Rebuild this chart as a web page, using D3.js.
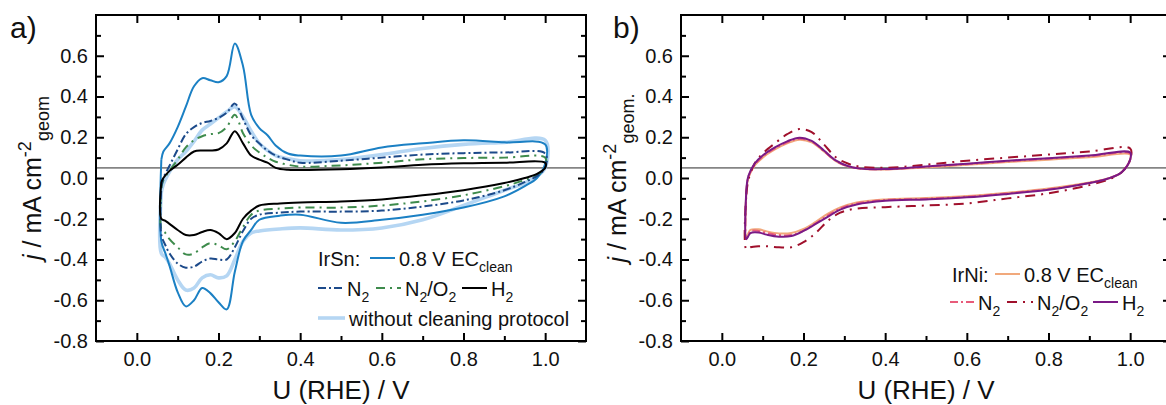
<!DOCTYPE html>
<html>
<head>
<meta charset="utf-8">
<script src="https://cdn.jsdelivr.net/npm/d3@7"></script>
<style>
  html, body { margin: 0; padding: 0; background: #fff; }
  svg { display: block; }
</style>
</head>
<body>
<svg id="chart" width="1166" height="405"></svg>
<script>
// CV curves of IrSn (a) and IrNi (b), anodic + cathodic branch per curve

// --- axis ticks ---
const X_MAJOR = [0, 0.2, 0.4, 0.6, 0.8, 1.0];
const X_MINOR = [0.1, 0.3, 0.5, 0.7, 0.9];
const Y_MAJOR = [-0.8, -0.6, -0.4, -0.2, 0, 0.2, 0.4, 0.6];
const Y_MINOR = [-0.7, -0.5, -0.3, -0.1, 0.1, 0.3, 0.5, 0.7];
const BASELINE_J = 0.05;

// --- IrSn potentials (V) ---
const U_UP_SN = [0.06, 0.065, 0.08, 0.10, 0.12, 0.14, 0.16, 0.18, 0.20, 0.22, 0.24, 0.26, 0.28, 0.30, 0.32, 0.34, 0.37, 0.40, 0.50, 0.60, 0.70, 0.80, 0.90, 1.00];
const U_DOWN_SN = [1.00, 0.98, 0.95, 0.90, 0.80, 0.70, 0.60, 0.50, 0.40, 0.35, 0.30, 0.28, 0.26, 0.24, 0.22, 0.20, 0.18, 0.16, 0.14, 0.12, 0.10, 0.08, 0.07, 0.06];

// IrSn current densities (mA cm-2)
const SN_CLEAN_UP = [0.09, 0.13, 0.17, 0.25, 0.35, 0.45, 0.49, 0.48, 0.47, 0.50, 0.66, 0.55, 0.31, 0.245, 0.21, 0.16, 0.12, 0.11, 0.11, 0.15, 0.17, 0.185, 0.175, 0.165];
const SN_CLEAN_DOWN = [0.07, 0.0, -0.04, -0.09, -0.145, -0.18, -0.205, -0.22, -0.18, -0.185, -0.205, -0.255, -0.31, -0.46, -0.645, -0.61, -0.565, -0.54, -0.60, -0.63, -0.56, -0.43, -0.37, -0.31];
const SN_BARE_UP = [-0.07, -0.03, 0.03, 0.09, 0.13, 0.18, 0.235, 0.265, 0.295, 0.325, 0.35, 0.30, 0.23, 0.17, 0.135, 0.11, 0.095, 0.085, 0.09, 0.115, 0.145, 0.165, 0.175, 0.185];
const SN_BARE_DOWN = [0.05, 0.01, -0.025, -0.06, -0.135, -0.205, -0.245, -0.255, -0.245, -0.25, -0.26, -0.27, -0.31, -0.40, -0.48, -0.49, -0.475, -0.49, -0.54, -0.55, -0.50, -0.42, -0.39, -0.37];
const SN_N2_UP = [-0.04, 0.0, 0.06, 0.14, 0.215, 0.25, 0.27, 0.28, 0.295, 0.32, 0.365, 0.29, 0.21, 0.17, 0.135, 0.11, 0.09, 0.075, 0.085, 0.10, 0.115, 0.122, 0.125, 0.12];
const SN_N2_DOWN = [0.05, 0.01, -0.02, -0.06, -0.11, -0.14, -0.16, -0.165, -0.165, -0.17, -0.18, -0.20, -0.26, -0.34, -0.40, -0.40, -0.395, -0.41, -0.435, -0.44, -0.42, -0.37, -0.33, -0.28];
const SN_N2O2_UP = [-0.05, -0.01, 0.035, 0.09, 0.15, 0.185, 0.205, 0.215, 0.22, 0.25, 0.31, 0.22, 0.16, 0.125, 0.10, 0.08, 0.065, 0.056, 0.062, 0.075, 0.092, 0.098, 0.10, 0.10];
const SN_N2O2_DOWN = [0.05, 0.015, -0.01, -0.04, -0.085, -0.115, -0.135, -0.145, -0.145, -0.15, -0.16, -0.18, -0.24, -0.31, -0.35, -0.33, -0.32, -0.34, -0.37, -0.375, -0.34, -0.30, -0.27, -0.25];
const SN_H2_UP = [-0.02, 0.0, 0.035, 0.065, 0.10, 0.13, 0.135, 0.135, 0.14, 0.17, 0.23, 0.17, 0.11, 0.09, 0.075, 0.05, 0.04, 0.039, 0.043, 0.052, 0.065, 0.072, 0.075, 0.075];
const SN_H2_DOWN = [0.05, 0.02, 0.0, -0.025, -0.06, -0.085, -0.105, -0.115, -0.12, -0.125, -0.135, -0.16, -0.20, -0.27, -0.30, -0.27, -0.255, -0.265, -0.28, -0.28, -0.255, -0.225, -0.21, -0.20];

// --- IrNi potentials (V) ---
const U_UP_NI = [0.06, 0.065, 0.08, 0.10, 0.13, 0.16, 0.19, 0.22, 0.25, 0.28, 0.31, 0.34, 0.40, 0.50, 0.60, 0.70, 0.80, 0.90, 1.00];
const U_DOWN_NI = [1.00, 0.98, 0.95, 0.90, 0.80, 0.70, 0.60, 0.50, 0.40, 0.33, 0.29, 0.26, 0.23, 0.20, 0.17, 0.14, 0.11, 0.09, 0.07, 0.06];

// IrNi current densities (mA cm-2)
const NI_CLEAN_UP = [-0.07, 0.0, 0.06, 0.10, 0.14, 0.17, 0.188, 0.175, 0.13, 0.082, 0.056, 0.045, 0.042, 0.052, 0.065, 0.078, 0.09, 0.102, 0.115];
const NI_CLEAN_DOWN = [0.09, 0.03, 0.0, -0.022, -0.052, -0.072, -0.088, -0.098, -0.105, -0.12, -0.145, -0.175, -0.215, -0.25, -0.27, -0.272, -0.262, -0.252, -0.255, -0.29];
const NI_N2_UP = [-0.07, 0.005, 0.062, 0.105, 0.145, 0.175, 0.192, 0.178, 0.132, 0.083, 0.057, 0.046, 0.043, 0.055, 0.068, 0.082, 0.095, 0.107, 0.12];
const NI_N2_DOWN = [0.09, 0.03, 0.0, -0.024, -0.055, -0.075, -0.092, -0.102, -0.108, -0.125, -0.15, -0.183, -0.222, -0.258, -0.28, -0.28, -0.27, -0.26, -0.262, -0.30];
const NI_N2O2_UP = [-0.08, -0.01, 0.07, 0.12, 0.17, 0.215, 0.24, 0.225, 0.165, 0.10, 0.07, 0.055, 0.05, 0.065, 0.085, 0.10, 0.115, 0.13, 0.145];
const NI_N2O2_DOWN = [0.09, 0.03, -0.005, -0.035, -0.075, -0.10, -0.125, -0.135, -0.143, -0.15, -0.17, -0.21, -0.27, -0.315, -0.34, -0.34, -0.335, -0.335, -0.34, -0.35];
const NI_H2_UP = [-0.06, 0.01, 0.07, 0.11, 0.15, 0.18, 0.198, 0.182, 0.135, 0.085, 0.058, 0.046, 0.044, 0.057, 0.07, 0.085, 0.097, 0.11, 0.125];
const NI_H2_DOWN = [0.09, 0.03, 0.0, -0.025, -0.058, -0.078, -0.095, -0.105, -0.112, -0.13, -0.155, -0.19, -0.225, -0.26, -0.285, -0.288, -0.278, -0.267, -0.27, -0.30];

const FONT = '"Liberation Sans", Arial, Helvetica, sans-serif';
const TOP = 15, PW = 490, PH = 326;

const svg = d3.select('#chart').attr('font-family', FONT);

const fmt = d => d.toFixed(1);

// text with sub/superscripts and italics
function addRich(text, parts, size) {
  let shift = 0;
  parts.forEach(([str, kind]) => {
    const target = kind === 'sub' ? 0.3 * size : kind === 'sup' ? -0.42 * size : 0;
    const t = text.append('tspan').text(str).attr('dy', target - shift);
    if (kind === 'sub' || kind === 'sup') t.attr('font-size', Math.round(size * 0.7));
    if (kind === 'it') t.attr('font-style', 'italic');
    shift = target;
  });
}

const panels = [
  {
    left: 96, tag: 'a)', tagX: 10, titleX: 41, unit: 'geom',
    up: U_UP_SN, down: U_DOWN_SN,
    series: [
      { up: SN_BARE_UP, down: SN_BARE_DOWN, color: '#b5d6f3', width: 3.6, dash: null },
      { up: SN_CLEAN_UP, down: SN_CLEAN_DOWN, color: '#1b80c4', width: 2, dash: null },
      { up: SN_N2O2_UP, down: SN_N2O2_DOWN, color: '#3e8b4c', width: 2, dash: '9,5,2,5' },
      { up: SN_N2_UP, down: SN_N2_DOWN, color: '#1c4a8a', width: 2, dash: '8,3,2,3' },
      { up: SN_H2_UP, down: SN_H2_DOWN, color: '#000000', width: 2, dash: null }
    ],
    legendHead: { text: 'IrSn:', x: 318, y: 266 },
    legend: [
      { s: 1, x: 370, y: 266, len: 25, parts: [['0.8 V EC', ''], ['clean', 'sub']] },
      { s: 3, x: 318, y: 296, len: 25, parts: [['N', ''], ['2', 'sub']] },
      { s: 2, x: 376, y: 296, len: 25, parts: [['N', ''], ['2', 'sub'], ['/O', ''], ['2', 'sub']] },
      { s: 4, x: 462, y: 296, len: 25, parts: [['H', ''], ['2', 'sub']] },
      { s: 0, x: 318, y: 326, len: 27, parts: [['without cleaning protocol', '']] }
    ]
  },
  {
    left: 681, tag: 'b)', tagX: 613, titleX: 626, unit: 'geom.',
    up: U_UP_NI, down: U_DOWN_NI,
    series: [
      { up: NI_CLEAN_UP, down: NI_CLEAN_DOWN, color: '#f1a97c', width: 2, dash: null },
      { up: NI_N2_UP, down: NI_N2_DOWN, color: '#e85b7a', width: 2, dash: '8,3,2,3' },
      { up: NI_N2O2_UP, down: NI_N2O2_DOWN, color: '#a0102c', width: 2, dash: '10,6,2,6' },
      { up: NI_H2_UP, down: NI_H2_DOWN, color: '#7a1a86', width: 2, dash: null }
    ],
    legendHead: { text: 'IrNi:', x: 952, y: 282 },
    legend: [
      { s: 0, x: 995, y: 282, len: 25, parts: [['0.8 V EC', ''], ['clean', 'sub']] },
      { s: 1, x: 950, y: 310, len: 24, parts: [['N', ''], ['2', 'sub']] },
      { s: 2, x: 1007, y: 310, len: 26, parts: [['N', ''], ['2', 'sub'], ['/O', ''], ['2', 'sub']] },
      { s: 3, x: 1093, y: 310, len: 25, parts: [['H', ''], ['2', 'sub']] }
    ]
  }
];

function styleAxis(g) {
  g.select('.domain').remove();
  g.selectAll('line').attr('stroke', '#000').attr('stroke-width', 2);
  g.selectAll('text').attr('font-size', 20).attr('font-family', FONT).attr('fill', '#111');
}

panels.forEach(p => {
  const x = d3.scaleLinear().domain([-0.1, 1.1]).range([0, PW]);
  const y = d3.scaleLinear().domain([-0.8, 0.8]).range([PH, 0]);
  const g = svg.append('g').attr('transform', `translate(${p.left},${TOP})`);

  // reference line
  g.append('line')
    .attr('x1', 0).attr('x2', PW)
    .attr('y1', y(BASELINE_J)).attr('y2', y(BASELINE_J))
    .attr('stroke', '#858585').attr('stroke-width', 1.7);

  // curves: anodic then cathodic, closed
  const line = d3.line().x(d => x(d[0])).y(d => y(d[1])).curve(d3.curveCatmullRom.alpha(0.5));
  p.series.forEach(s => {
    const pts = s.up.map((v, i) => [p.up[i], v]).concat(s.down.map((v, i) => [p.down[i], v]));
    pts.push(pts[0]);
    g.append('path')
      .attr('d', line(pts))
      .attr('fill', 'none')
      .attr('stroke', s.color)
      .attr('stroke-width', s.width)
      .attr('stroke-linejoin', 'round')
      .attr('stroke-dasharray', s.dash);
  });

  // ticks on all four sides, pointing inward
  g.append('g').attr('transform', `translate(0,${PH})`)
    .call(d3.axisBottom(x).tickValues(X_MAJOR).tickSize(-8).tickPadding(11).tickFormat(fmt)).call(styleAxis);
  g.append('g').attr('transform', `translate(0,${PH})`)
    .call(d3.axisBottom(x).tickValues(X_MINOR).tickSize(-5).tickFormat('')).call(styleAxis);
  g.append('g')
    .call(d3.axisTop(x).tickValues(X_MAJOR).tickSize(-8).tickFormat('')).call(styleAxis);
  g.append('g')
    .call(d3.axisTop(x).tickValues(X_MINOR).tickSize(-5).tickFormat('')).call(styleAxis);
  g.append('g')
    .call(d3.axisLeft(y).tickValues(Y_MAJOR).tickSize(-8).tickPadding(8).tickFormat(fmt)).call(styleAxis);
  g.append('g')
    .call(d3.axisLeft(y).tickValues(Y_MINOR).tickSize(-5).tickFormat('')).call(styleAxis);
  g.append('g').attr('transform', `translate(${PW},0)`)
    .call(d3.axisRight(y).tickValues(Y_MAJOR).tickSize(-8).tickFormat('')).call(styleAxis);
  g.append('g').attr('transform', `translate(${PW},0)`)
    .call(d3.axisRight(y).tickValues(Y_MINOR).tickSize(-5).tickFormat('')).call(styleAxis);

  g.append('rect')
    .attr('width', PW).attr('height', PH)
    .attr('fill', 'none').attr('stroke', '#000').attr('stroke-width', 2);

  // axis titles
  svg.append('text')
    .attr('x', p.left + PW / 2).attr('y', 399)
    .attr('text-anchor', 'middle').attr('font-size', 26).attr('fill', '#111')
    .text('U (RHE) / V');

  const yt = svg.append('text')
    .attr('transform', `translate(${p.titleX},${TOP + PH / 2}) rotate(-90)`)
    .attr('text-anchor', 'middle').attr('font-size', 25).attr('fill', '#111');
  addRich(yt, [['j', 'it'], [' / mA cm', ''], ['-2', 'sup'], [p.unit, 'sub']], 25);

  svg.append('text')
    .attr('x', p.tagX).attr('y', 38)
    .attr('font-size', 30).attr('fill', '#111')
    .text(p.tag);

  // legend
  svg.append('text')
    .attr('x', p.legendHead.x).attr('y', p.legendHead.y)
    .attr('font-size', 20).attr('fill', '#111')
    .text(p.legendHead.text);

  p.legend.forEach(item => {
    const s = p.series[item.s];
    svg.append('line')
      .attr('x1', item.x).attr('x2', item.x + item.len)
      .attr('y1', item.y - 8).attr('y2', item.y - 8)
      .attr('stroke', s.color).attr('stroke-width', s.width)
      .attr('stroke-dasharray', s.dash);
    const t = svg.append('text')
      .attr('x', item.x + item.len + 4).attr('y', item.y)
      .attr('font-size', 20).attr('fill', '#111');
    addRich(t, item.parts, 20);
  });
});
</script>
</body>
</html>
